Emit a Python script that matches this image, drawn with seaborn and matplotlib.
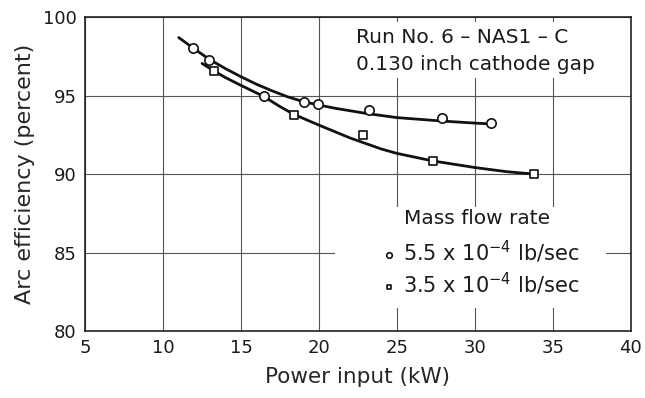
import matplotlib
matplotlib.use("Agg")
import matplotlib.pyplot as plt
import seaborn as sns
import pandas as pd
from matplotlib.patches import Rectangle

# ---- data ----
circ_x = [11.9, 12.95, 16.45, 19.05, 19.95, 23.2, 27.9, 31.05]
circ_y = [98.05, 97.3, 94.95, 94.6, 94.45, 94.08, 93.55, 93.25]
sq_x = [13.25, 18.4, 22.85, 27.3, 33.8]
sq_y = [96.55, 93.78, 92.52, 90.86, 90.0]

# hand-drawn fitted curves (traced points)
curve_hi_x = [11.0, 11.9, 12.95, 14.0, 15.0, 16.0, 17.0, 18.0, 19.05, 20.0, 21.0, 23.0, 25.0, 27.9, 30.0, 31.0]
curve_hi_y = [98.7, 98.05, 97.32, 96.72, 96.2, 95.72, 95.3, 94.92, 94.6, 94.4, 94.2, 93.87, 93.6, 93.38, 93.25, 93.2]
curve_lo_x = [12.5, 13.25, 14.0, 15.0, 16.45, 17.5, 18.4, 20.0, 22.0, 24.0, 25.0, 27.3, 30.0, 32.0, 33.8]
curve_lo_y = [97.05, 96.58, 96.15, 95.65, 94.95, 94.3, 93.8, 93.12, 92.3, 91.6, 91.32, 90.84, 90.42, 90.16, 90.0]

x_ticks = [5, 10, 15, 20, 25, 30, 35, 40]
y_ticks = [80, 85, 90, 95, 100]

label_hi = r"5.5 x 10$^{-4}$ lb/sec"
label_lo = r"3.5 x 10$^{-4}$ lb/sec"

sns.set_style("white")
plt.rcParams["font.family"] = ["DejaVu Sans"]
plt.rcParams["mathtext.default"] = "regular"
plt.rcParams["text.color"] = "#1a1a1a"

fig = plt.figure(figsize=(6.45, 3.98), dpi=100)
ax = fig.add_axes([0.132, 0.168, 0.846, 0.789])

df_c = pd.DataFrame({"x": circ_x, "y": circ_y})
df_s = pd.DataFrame({"x": sq_x, "y": sq_y})

sns.lineplot(x=curve_hi_x, y=curve_hi_y, sort=False, color="#111111", lw=2.0, ax=ax, zorder=3)
sns.lineplot(x=curve_lo_x, y=curve_lo_y, sort=False, color="#111111", lw=2.0, ax=ax, zorder=3)
sns.scatterplot(data=df_c, x="x", y="y", marker="o", s=45, color="white",
                edgecolor="#111111", linewidth=1.2, ax=ax, zorder=4, label=label_hi)
sns.scatterplot(data=df_s, x="x", y="y", marker="s", s=32, color="white",
                edgecolor="#111111", linewidth=1.2, ax=ax, zorder=4, label=label_lo)

ax.set_xlim(5, 40)
ax.set_ylim(80, 100)
ax.set_xticks(x_ticks)
ax.set_yticks(y_ticks)
ax.grid(True, color="#555555", lw=0.8)
ax.set_axisbelow(True)
for sp in ax.spines.values():
    sp.set_color("#222222")
    sp.set_linewidth(1.2)
ax.tick_params(length=0, labelsize=13, pad=6, colors="#1a1a1a")

ax.set_xlabel("Power input (kW)", fontsize=15.5, labelpad=7)
ax.set_ylabel("Arc efficiency (percent)", fontsize=16, labelpad=6)

# gaps in the grid behind the text blocks
ax.add_patch(Rectangle((22.4, 96.1), 16.3, 3.6, facecolor="white", edgecolor="none", zorder=1))
ax.add_patch(Rectangle((21.0, 81.5), 17.4, 6.4, facecolor="white", edgecolor="none", zorder=1))

ax.text(0.497, 0.935, "Run No. 6 \u2013 NAS1 \u2013 C", transform=ax.transAxes,
        fontsize=14.5, va="center", ha="left", zorder=5)
ax.text(0.497, 0.85, "0.130 inch cathode gap", transform=ax.transAxes,
        fontsize=14.5, va="center", ha="left", zorder=5)

ax.text(0.584, 0.36, "Mass flow rate", transform=ax.transAxes,
        fontsize=14.5, va="center", ha="left", zorder=5)
handles, labels = ax.get_legend_handles_labels()
leg = ax.legend(handles, labels, loc="center left",
                bbox_to_anchor=(0.542, 0.2016), frameon=False, fontsize=15,
                handletextpad=0.28, handlelength=0.8, markerscale=0.6,
                borderpad=0, borderaxespad=0, labelspacing=0.3)

fig.savefig("out.png", dpi=100)
